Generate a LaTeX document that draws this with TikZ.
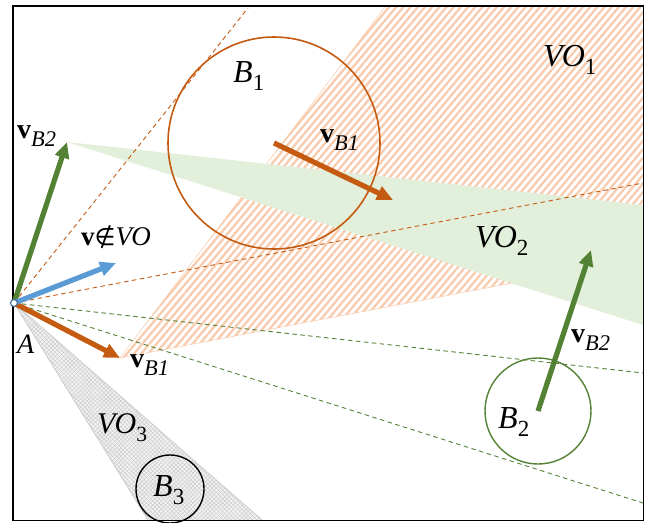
\documentclass[tikz,border=0pt]{standalone}
\usepackage{fontspec}
\usepackage{graphicx}
\setmainfont{Liberation Serif}
\newfontfamily\symfont{DejaVu Sans}
\usetikzlibrary{arrows.meta,patterns.meta}
\definecolor{ogreen}{HTML}{548235}
\definecolor{oorange}{HTML}{C55A11}
\definecolor{oblue}{HTML}{5B9BD5}
\definecolor{lgreen}{HTML}{E2EFDA}
\definecolor{lorange}{HTML}{F8CBAD}
\newcommand\subx[1]{\raisebox{-0.27em}{\scalebox{0.72}{#1}}}
\newcommand\subv[1]{\raisebox{-0.3em}{\scalebox{0.8}{#1}}}
\newcommand\fsz[1]{\fontsize{#1}{#1}\selectfont}
\tikzset{
  vec/.style={line width=5.2pt, -{Triangle[length=16pt,width=14pt]}},
  tang/.style={dash pattern=on 4.5pt off 3.5pt, line width=0.9pt},
  lab/.style={inner sep=0pt, anchor=base west, font=\fsz{32}},
  vlab/.style={inner sep=0pt, anchor=base west, font=\fsz{28}},
}
\begin{document}
\begin{tikzpicture}[x=1pt,y=-1pt]
\useasboundingbox (0,0) rectangle (652,522);
% key points
\coordinate (A) at (14,303);
\coordinate (PB2) at (67,142);
\coordinate (PB1) at (120,358);
\coordinate (PV) at (116,263);
\coordinate (C1) at (274,143);
\coordinate (E1) at (393,200);
\coordinate (C2) at (538,411);
\coordinate (E2) at (591,250);
\coordinate (C3) at (170,489);
% frame points
\coordinate (T1) at (248,8);
\coordinate (T2) at (643,183);
\coordinate (G1) at (643,373);
\coordinate (G2) at (643,503);
\coordinate (H2) at (643,258);
\coordinate (H3) at (643,7);
\coordinate (H4) at (385,7);
\coordinate (V2a) at (643,205);
\coordinate (V2b) at (643,325);
\coordinate (V3a) at (148,520);
\coordinate (V3b) at (262,520);
% VO1 hatched
\fill[pattern={Lines[angle=50,distance=5.5pt,line width=2.3pt]}, pattern color=lorange]
  (PB1) -- (H2) -- (H3) -- (H4) -- cycle;
\draw[lorange, line width=0.5pt] (H2) -- (PB1) -- (H4);
% VO2 green
\fill[lgreen] (PB2) -- (V2a) -- (V2b) -- cycle;
% VO3 grey
\fill[gray!10] (A) -- (V3a) -- (V3b) -- cycle;
\fill[pattern={Lines[angle=45,distance=3pt,line width=0.5pt]}, pattern color=gray!40]
  (A) -- (V3a) -- (V3b) -- cycle;
\fill[pattern={Lines[angle=-45,distance=3pt,line width=0.5pt]}, pattern color=gray!40]
  (A) -- (V3a) -- (V3b) -- cycle;
\draw[gray!40, line width=0.8pt] (V3a) -- (A) -- (V3b);
% tangent lines
\draw[tang, oorange] (A) -- (T1);
\draw[tang, oorange] (A) -- (T2);
\draw[tang, ogreen] (A) -- (G1);
\draw[tang, ogreen] (A) -- (G2);
% frame
\draw[line width=1.8pt] (13,6) rectangle (643.5,520.5);
% obstacles
\node[circle, draw=oorange, line width=1.6pt, minimum size=212pt, inner sep=0pt] (B1) at (C1) {};
\node[circle, draw=ogreen, line width=1.4pt, minimum size=106pt, inner sep=0pt] (B2) at (C2) {};
\node[circle, draw=black, line width=1.4pt, minimum size=68pt, inner sep=0pt] (B3) at (C3) {};
% velocity arrows
\draw[vec, oorange] (C1) -- (E1);
\draw[vec, ogreen] (C2) -- (E2);
\draw[vec, ogreen] (A) -- (PB2);
\draw[vec, oorange] (A) -- (PB1);
\draw[vec, oblue] (A) -- (PV);
\node[circle, draw=oblue!70!black, fill=white, line width=1.1pt, minimum size=7pt, inner sep=0pt] (Apt) at (A) {};
% labels
\node[lab] (lVO1) at (543,66) {\textit{VO}\subx{1}};
\node[lab] (lB1) at (233,82) {\textit{B}\subx{1}};
\node[vlab] (lvB1a) at (320,142) {\textbf{v}\subv{\textit{B1}}};
\node[lab] (lVO2) at (475,247) {\textit{VO}\subx{2}};
\node[inner sep=0pt, anchor=base west, font=\fsz{27}] (lv) at (81,245) {\textbf{v}{\symfont\fsz{24}∉}\textit{VO}};
\node[vlab] (lvB2a) at (17,138) {\textbf{v}\subv{\textit{B2}}};
\node[inner sep=0pt, anchor=base west, font=\fsz{28}] (lA) at (17,353) {\textit{A}};
\node[vlab] (lvB1b) at (130,367) {\textbf{v}\subv{\textit{B1}}};
\node[inner sep=0pt, anchor=base west, font=\fsz{30}] (lVO3) at (97,433) {\textit{VO}\subx{3}};
\node[lab] (lB3) at (153,496) {\textit{B}\subx{3}};
\node[lab] (lB2) at (498,428) {\textit{B}\subx{2}};
\node[vlab] (lvB2b) at (571,342) {\textbf{v}\subv{\textit{B2}}};
\end{tikzpicture}
\end{document}
